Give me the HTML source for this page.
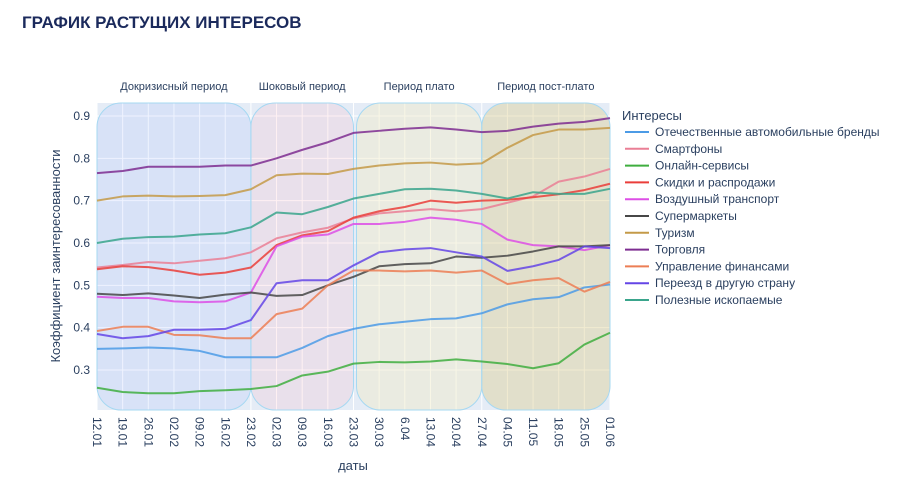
<!DOCTYPE html>
<html><head><meta charset="utf-8"><style>
body{margin:0;background:#fff;width:900px;height:488px;overflow:hidden;font-family:"Liberation Sans","DejaVu Sans",sans-serif}
svg{display:block}
</style></head><body>
<svg id="chart" width="900" height="488" xmlns="http://www.w3.org/2000/svg">
<text x="22" y="28" font-size="17" font-weight="bold" fill="#1b2a5c">ГРАФИК РАСТУЩИХ ИНТЕРЕСОВ</text>
<rect x="97" y="103" width="513" height="307" fill="#e5ecf6"/>
<g id="grid"></g><g id="periods"></g><g id="lines"></g><g id="axes"></g><g id="legend"></g>
<text transform="translate(60,256) rotate(-90)" text-anchor="middle" font-size="13" fill="#2a3f5f">Коэффициент заинтересованности</text>
<text x="353" y="470" text-anchor="middle" font-size="13" fill="#2a3f5f">даты</text>
</svg>
<script>
const categories=["12.01","19.01","26.01","02.02","09.02","16.02","23.02","02.03","09.03","16.03","23.03","30.03","6.04","13.04","20.04","27.04","04.05","11.05","18.05","25.05","01.06"];
const yTicks=[0.3,0.4,0.5,0.6,0.7,0.8,0.9];
const seriesNames=["Отечественные автомобильные бренды","Смартфоны","Онлайн-сервисы","Скидки и распродажи","Воздушный транспорт","Супермаркеты","Туризм","Торговля","Управление финансами","Переезд в другую страну","Полезные ископаемые"];
const seriesColors=["#4c9be6","#ea7f95","#3fae3f","#ea3e3a","#dd4fe6","#474747","#c49a48","#7e2d91","#ec7e55","#6445e6","#3aa58c"];
const sAuto=[.35,.351,.353,.351,.345,.33,.33,.33,.352,.38,.397,.408,.414,.42,.422,.434,.455,.467,.472,.495,.502];
const sPhone=[.542,.548,.555,.552,.558,.564,.578,.611,.625,.636,.658,.67,.675,.68,.675,.68,.695,.71,.745,.757,.775];
const sOnline=[.258,.248,.245,.245,.25,.252,.255,.262,.287,.296,.315,.319,.318,.32,.325,.32,.314,.304,.316,.36,.388];
const sSales=[.538,.545,.543,.535,.525,.53,.542,.595,.618,.628,.66,.675,.685,.70,.695,.70,.702,.708,.715,.725,.74];
const sAir=[.473,.47,.47,.462,.46,.462,.483,.592,.615,.62,.645,.645,.65,.66,.655,.645,.608,.595,.592,.583,.595];
const sMarket=[.48,.477,.481,.476,.47,.478,.483,.475,.477,.5,.52,.545,.55,.552,.568,.565,.57,.58,.592,.592,.595];
const sTour=[.70,.71,.712,.71,.711,.713,.727,.76,.764,.763,.775,.783,.788,.79,.785,.788,.825,.855,.868,.868,.872];
const sTrade=[.765,.77,.78,.78,.78,.783,.783,.80,.82,.838,.86,.865,.87,.873,.868,.862,.865,.875,.882,.886,.895];
const sFin=[.392,.402,.402,.383,.382,.375,.375,.432,.445,.50,.535,.535,.533,.535,.53,.535,.503,.512,.517,.485,.508];
const sMove=[.385,.375,.38,.395,.395,.397,.418,.505,.512,.512,.547,.578,.585,.588,.578,.568,.534,.545,.56,.592,.588];
const sMin=[.60,.61,.614,.615,.62,.623,.637,.672,.668,.685,.705,.716,.727,.728,.724,.716,.705,.72,.716,.716,.728];
const seriesValues=[sAuto,sPhone,sOnline,sSales,sAir,sMarket,sTour,sTrade,sFin,sMove,sMin];
const periodNames=["Докризисный период","Шоковый период","Период плато","Период пост-плато"];
const periodStart=[0,6,10,15];
const periodEnd=[6,10,15,20];
const NS="http://www.w3.org/2000/svg";
const X0=97,X1=610,Y0=410,Y1=103;
const xs=i=>X0+i*(X1-X0)/(categories.length-1);
const ys=v=>116+(0.9-v)*423.3;
function mk(tag,attrs,parent){const e=document.createElementNS(NS,tag);for(const k in attrs)e.setAttribute(k,attrs[k]);parent.appendChild(e);return e;}
const grid=document.getElementById('grid');
categories.forEach((c,i)=>{const l=mk('line',{x1:xs(i),x2:xs(i),y1:Y1,y2:Y0,stroke:'#fff','stroke-width':1},grid);

});
yTicks.forEach(v=>{const l=mk('line',{x1:X0,x2:X1,y1:ys(v),y2:ys(v),stroke:'#fff','stroke-width':1},grid);

});
const pfill=["rgba(120,160,255,0.12)","rgba(255,160,175,0.15)","rgba(240,235,200,0.45)","rgba(220,205,140,0.4)"];
const per=document.getElementById('periods');
periodNames.forEach((n,i)=>{const a=xs(periodStart[i])+(i==2?3:0),b=xs(periodEnd[i]);
const r=mk('rect',{x:a,y:103,width:b-a,height:307,rx:24,ry:24,fill:pfill[i],stroke:'#a6d8f2','stroke-width':1},per);


const t=mk('text',{x:(a+b)/2,y:90,'text-anchor':'middle','font-size':11,fill:'#2a3f5f'},per);t.textContent=n;

});
const lines=document.getElementById('lines');
seriesValues.forEach((s,k)=>{const p=mk('polyline',{points:s.map((v,i)=>xs(i)+','+ys(v)).join(' '),fill:'none',stroke:seriesColors[k],'stroke-width':2,'stroke-opacity':0.85,'stroke-linejoin':'round'},lines);

});
const ax=document.getElementById('axes');
yTicks.forEach(v=>{const t=mk('text',{x:90,y:ys(v)+4,'text-anchor':'end','font-size':12,fill:'#2a3f5f'},ax);t.textContent=v.toFixed(1);

});
categories.forEach((c,i)=>{const t=mk('text',{transform:`translate(${xs(i)-4},417) rotate(90)`,'font-size':12,fill:'#2a3f5f'},ax);t.textContent=c;

});
const lg=document.getElementById('legend');
const lt=mk('text',{x:622,y:120,'font-size':13,fill:'#2a3f5f'},lg);lt.textContent='Интересы';


seriesNames.forEach((n,k)=>{const y=132+k*16.8;
const g=mk('g',{},lg);


mk('line',{x1:625,x2:649,y1:y,y2:y,stroke:seriesColors[k],'stroke-width':2},g);
const t=mk('text',{x:655,y:y+4,'font-size':12,fill:'#2a3f5f'},g);t.textContent=n;});
</script>
</body></html>
